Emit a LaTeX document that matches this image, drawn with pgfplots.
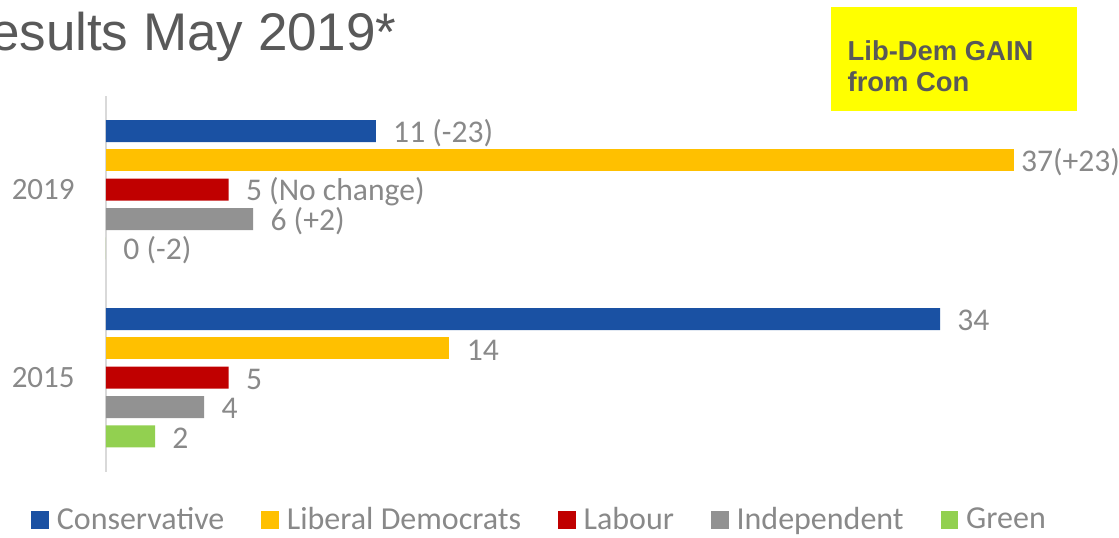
\documentclass[border=0pt]{standalone}
\usepackage{fontspec}
\setmainfont{Carlito}
\newfontfamily\arialfont{Liberation Sans}
\usepackage{pgfplots}
\pgfplotsset{compat=1.18}
\definecolor{con}{HTML}{1A51A3}
\definecolor{ld}{HTML}{FFC000}
\definecolor{lab}{HTML}{C00000}
\definecolor{ind}{HTML}{929292}
\definecolor{grn}{HTML}{92D050}
\definecolor{labelgrey}{HTML}{898989}
\definecolor{titlegrey}{HTML}{595959}
\definecolor{axisgrey}{HTML}{D9D9D9}
\definecolor{boxyellow}{HTML}{FFFF00}
\begin{document}
\begin{tikzpicture}
\useasboundingbox (0,0) rectangle (559.5pt,268.5pt);
% title (cut at the left edge, as in the slide)
\node[anchor=base east, inner sep=0pt, text=titlegrey,
  font=\arialfont\fontsize{26.5}{30}\selectfont] at (198.5pt,243.5pt) {Results May 2019*};
% call-out box
\fill[boxyellow] (415.5pt,213.15pt) rectangle (538.35pt,265.15pt);
\node[anchor=base west, inner sep=0pt, text=titlegrey,
  font=\arialfont\bfseries\fontsize{13.7}{16}\selectfont] at (423.65pt,238pt) {Lib-Dem GAIN};
\node[anchor=base west, inner sep=0pt, text=titlegrey,
  font=\arialfont\bfseries\fontsize{13.7}{16}\selectfont] at (423.65pt,222.65pt) {from Con};
\begin{axis}[
  at={(53pt,32.65pt)}, anchor=south west,
  scale only axis, width=490.6pt, height=188pt,
  xbar, bar width=11pt,
  xmin=0, xmax=40, ymin=-0.5, ymax=1.5,
  axis x line=none, axis y line*=left,
  y axis line style={draw=axisgrey, line width=0.6pt},
  ytick={0,1}, yticklabels={2015,2019}, major tick length=0pt,
  yticklabel style={text=labelgrey, font=\fontsize{15.5}{18}\selectfont,
    inner sep=0pt, xshift=-15.5pt},
  point meta=explicit symbolic,
  nodes near coords={\pgfplotspointmeta},
  every node near coord/.append style={text=labelgrey, font=\fontsize{15.8}{18}\selectfont,
    inner sep=0pt, anchor=west, xshift=8.5pt, yshift=-0.9pt},
  legend columns=5,
  legend image code/.code={\fill[#1] (0pt,-4.4pt) rectangle (8.75pt,4.4pt);},
  legend style={draw=none, fill=none, at={(-0.0765,-0.1285)}, anchor=west,
    inner sep=0pt, font=\fontsize{16}{19}\selectfont, text=labelgrey,
    nodes={inner sep=0pt},
    /tikz/every odd column/.append style={column sep=4pt},
    /tikz/every even column/.append style={column sep=18.5pt}},
  legend cell align=left,
]
\addplot[fill=con, draw=none, bar shift=29.35pt] coordinates {(11,1) [11 (-23)] (34,0) [34]};
\addplot[fill=ld, draw=none, bar shift=14.65pt,
  every node near coord/.append style={xshift=-5pt}] coordinates {(37,1) [37(+23)]};
\addplot[fill=ld, draw=none, bar shift=14.65pt, forget plot] coordinates {(14,0) [14]};
\addplot[fill=lab, draw=none, bar shift=0pt] coordinates {(5,1) [5 (No change)] (5,0) [5]};
\addplot[fill=ind, draw=none, bar shift=-14.65pt] coordinates {(6,1) [6 (+2)] (4,0) [4]};
\addplot[fill=grn, draw=none, bar shift=-29.3pt] coordinates {(0,1) [0 (-2)] (2,0) [2]};
\legend{Conservative, Liberal Democrats, Labour, Independent, Green}
\end{axis}
\end{tikzpicture}
\end{document}
